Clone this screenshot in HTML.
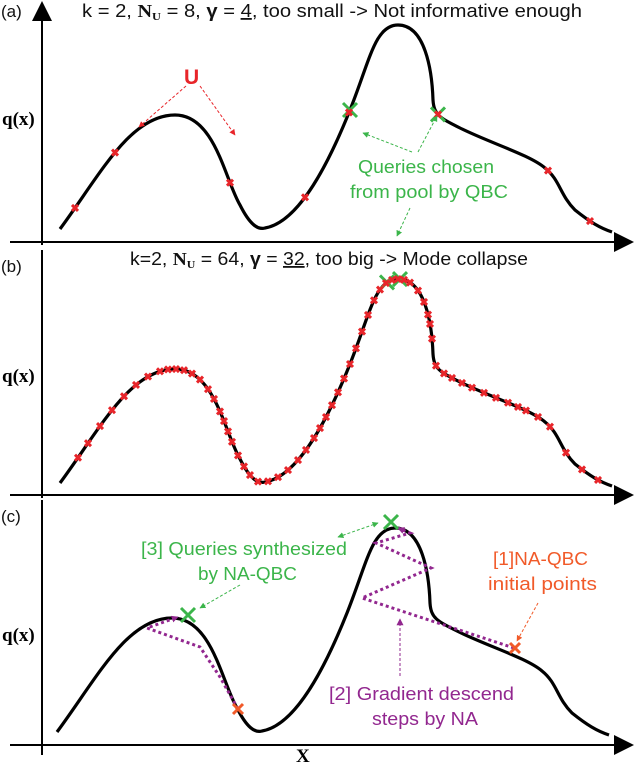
<!DOCTYPE html>
<html><head><meta charset="utf-8"><style>
body{margin:0;background:#fff}
svg text{font-family:"Liberation Sans",sans-serif}
.t{font-size:18px;fill:#111}
.q{font-family:"Liberation Serif",serif!important;font-weight:bold;font-size:19px}
</style></head><body>
<svg width="640" height="763" viewBox="0 0 640 763" xmlns="http://www.w3.org/2000/svg">
<defs>
<marker id="ah" viewBox="0 0 10 10" refX="9" refY="5" markerUnits="userSpaceOnUse" markerWidth="20" markerHeight="20" orient="auto"><path d="M0,0L10,5L0,10z" fill="#000"/></marker>
<marker id="ar" viewBox="0 0 10 10" refX="9" refY="5" markerUnits="userSpaceOnUse" markerWidth="6" markerHeight="6" orient="auto-start-reverse"><path d="M0,0L10,5L0,10z" fill="#e8252a"/></marker>
<marker id="ag" viewBox="0 0 10 10" refX="9" refY="5" markerUnits="userSpaceOnUse" markerWidth="6" markerHeight="6" orient="auto-start-reverse"><path d="M0,0L10,5L0,10z" fill="#3bb54a"/></marker>
<marker id="ao" viewBox="0 0 10 10" refX="9" refY="5" markerUnits="userSpaceOnUse" markerWidth="6" markerHeight="6" orient="auto"><path d="M0,0L10,5L0,10z" fill="#f15a29"/></marker>
<marker id="ap" viewBox="0 0 10 10" refX="9" refY="5" markerUnits="userSpaceOnUse" markerWidth="7" markerHeight="7" orient="auto"><path d="M0,0L10,5L0,10z" fill="#92278f"/></marker>
<path id="curve" d="M60,229 C100,175 130,115 175,115 C215,115 225,180 240,205 C250,225 258,230 265,228 C300,222 330,160 350,110 C370,60 375,25 398,25 C425,25 432,70 433,100 C434,115 440,118 460,128 C490,143 530,155 545,168 C560,180 560,195 575,210 C590,222 600,228 612,232" fill="none" stroke="#000" stroke-width="3.2"/>
</defs>

<g>
<line x1="10" y1="242" x2="632" y2="242" stroke="#000" stroke-width="2" marker-end="url(#ah)"/>
<line x1="42" y1="245" x2="42" y2="3" stroke="#000" stroke-width="2" marker-end="url(#ah)"/>
<text x="1" y="17" font-size="17" fill="#111">(a)</text>
<text x="82" y="17" class="t" textLength="500" lengthAdjust="spacingAndGlyphs">k = 2, <tspan font-family="Liberation Serif" font-weight="bold">N<tspan font-size="11" dy="3">U</tspan></tspan><tspan dy="-3"> = 8, </tspan><tspan font-weight="bold">γ</tspan> = <tspan text-decoration="underline">4</tspan>, too small -&gt; Not informative enough</text>
<text x="2" y="125" class="q">q(x)</text>
<use href="#curve"/>
<g id="ma"></g>
<text x="184" y="84" font-family="Liberation Serif" font-weight="bold" font-size="21" fill="#e8252a">U</text>
<line x1="186" y1="86" x2="139" y2="127" stroke="#e8252a" stroke-dasharray="3,2" marker-end="url(#ar)"/>
<line x1="200" y1="86" x2="235" y2="135" stroke="#e8252a" stroke-dasharray="3,2" marker-end="url(#ar)"/>
<text x="358" y="173" font-size="18" fill="#3bb54a" textLength="136" lengthAdjust="spacingAndGlyphs">Queries chosen</text>
<text x="350" y="198" font-size="18" fill="#3bb54a" textLength="158" lengthAdjust="spacingAndGlyphs">from pool by QBC</text>
<line x1="412" y1="152" x2="363" y2="133" stroke="#3bb54a" stroke-dasharray="3,2" marker-end="url(#ag)"/>
<line x1="418" y1="152" x2="437" y2="116" stroke="#3bb54a" stroke-dasharray="3,2" marker-end="url(#ag)"/>
<line x1="410" y1="208" x2="397" y2="236" stroke="#3bb54a" stroke-dasharray="3,2" marker-end="url(#ag)"/>
</g>

<g>
<line x1="10" y1="495" x2="632" y2="495" stroke="#000" stroke-width="2" marker-end="url(#ah)"/>
<line x1="42" y1="498" x2="42" y2="250" stroke="#000" stroke-width="2"/>
<text x="1" y="272" font-size="17" fill="#111">(b)</text>
<text x="130" y="265" class="t" textLength="398" lengthAdjust="spacingAndGlyphs">k=2, <tspan font-family="Liberation Serif" font-weight="bold">N<tspan font-size="11" dy="3">U</tspan></tspan><tspan dy="-3"> = 64, </tspan><tspan font-weight="bold">γ</tspan> = <tspan text-decoration="underline">32</tspan>, too big -&gt; Mode collapse</text>
<text x="2" y="382" class="q">q(x)</text>
<g transform="translate(0,254)"><use href="#curve"/><g id="mb"></g></g>
</g>

<g>
<line x1="10" y1="745" x2="632" y2="745" stroke="#000" stroke-width="2" marker-end="url(#ah)"/>
<line x1="42" y1="755" x2="42" y2="500" stroke="#000" stroke-width="2"/>
<text x="1" y="522" font-size="17" fill="#111">(c)</text>
<text x="2" y="641" class="q">q(x)</text>
<text x="296" y="762" class="q">X</text>
<g transform="translate(-3,503)"><use href="#curve"/></g>
<g fill="none" stroke="#92278f" stroke-width="3" stroke-dasharray="3,3">
<polyline points="238,709 220,677 200,647 147,628 178,617" marker-end="url(#ap)"/>
<polyline points="514,648 362,598 431,568 376,543 410,533 398,528" marker-end="url(#ap)"/>
</g>
<g stroke-width="3">
<path d="M181,608l14,14M195,608l-14,14" stroke="#3bb54a"/>
<path d="M384,515l14,14M398,515l-14,14" stroke="#3bb54a"/>
<path d="M233,704l10,10M243,704l-10,10" stroke="#f15a29"/>
<path d="M510,643l10,10M520,643l-10,10" stroke="#f15a29"/>
</g>
<text x="141" y="555" font-size="18" fill="#3bb54a" textLength="206" lengthAdjust="spacingAndGlyphs">[3] Queries synthesized</text>
<text x="198" y="580" font-size="18" fill="#3bb54a" textLength="99" lengthAdjust="spacingAndGlyphs">by NA-QBC</text>
<line x1="240" y1="585" x2="200" y2="608" stroke="#3bb54a" stroke-dasharray="3,2" marker-end="url(#ag)"/>
<line x1="338" y1="537" x2="378" y2="523" stroke="#3bb54a" stroke-dasharray="3,2" marker-end="url(#ag)" marker-start="url(#ag)"/>
<text x="493" y="565" font-size="18" fill="#f15a29" textLength="95" lengthAdjust="spacingAndGlyphs">[1]NA-QBC</text>
<text x="488" y="590" font-size="18" fill="#f15a29" textLength="109" lengthAdjust="spacingAndGlyphs">initial points</text>
<line x1="538" y1="603" x2="517" y2="641" stroke="#f15a29" stroke-dasharray="3,2" marker-end="url(#ao)"/>
<text x="329" y="700" font-size="18" fill="#92278f" textLength="185" lengthAdjust="spacingAndGlyphs">[2] Gradient descend</text>
<text x="372" y="725" font-size="18" fill="#92278f" textLength="106" lengthAdjust="spacingAndGlyphs">steps by NA</text>
<line x1="400" y1="676" x2="400" y2="619" stroke="#92278f" stroke-dasharray="3,2" marker-end="url(#ap)"/>
</g>
</svg>
<script>
const poolA = [75,115,230,305,349,438,548,590];
const poolB = [78,88,100,112,124,136,148,160,168,176,184,192,200,208,214,220,224,228,232,238,244,250,258,268,278,288,298,306,314,320,326,332,338,344,350,356,362,368,374,380,386,392,398,404,410,418,424,428,430,432,436,444,452,462,472,484,496,508,518,526,538,550,566,582,598];
const queriesA = [350,438];
const queriesB = [387,400];
const NS='http://www.w3.org/2000/svg';
const c=document.getElementById('curve');
const L=c.getTotalLength();
function atX(x){
  let lo=0,hi=L;
  for(let i=0;i<40;i++){const m=(lo+hi)/2;if(c.getPointAtLength(m).x<x)lo=m;else hi=m;}
  return c.getPointAtLength(lo);
}
function cross(g,p,col,s,w){
  const e=document.createElementNS(NS,'path');
  
  
  e.setAttribute('d',`M${p.x-s},${p.y-s}L${p.x+s},${p.y+s}M${p.x+s},${p.y-s}L${p.x-s},${p.y+s}`);
  e.setAttribute('stroke',col);e.setAttribute('stroke-width',w);
  g.appendChild(e);
}
function draw(id,pool,q){
  const g=document.getElementById(id);
  q.forEach(x=>cross(g,atX(x),'#3bb54a',7,3));
  pool.forEach(x=>cross(g,atX(x),'#e8252a',3,3));
}
draw('ma',poolA,queriesA);
draw('mb',poolB,queriesB);
</script>
</body></html>
